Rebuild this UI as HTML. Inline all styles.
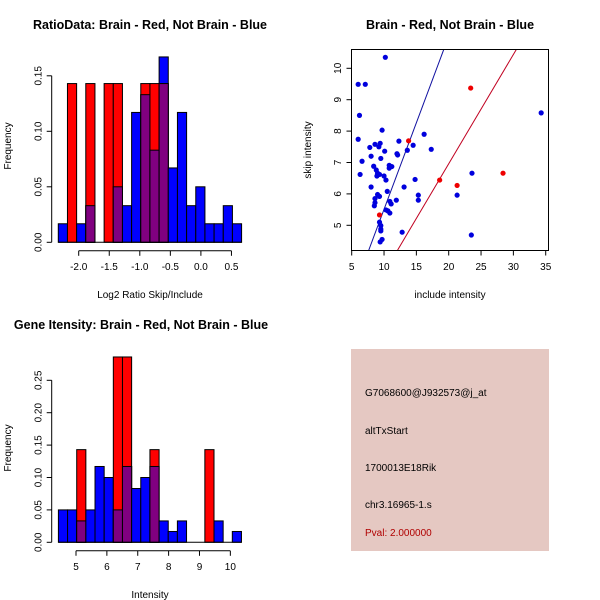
<!DOCTYPE html>
<html><head><meta charset="utf-8"><style>
body{margin:0;background:#fff}
svg{display:block;font-family:"Liberation Sans",sans-serif}
</style></head><body>
<svg id="s" width="600" height="600">
<text x="150" y="29" text-anchor="middle" font-weight="bold" font-size="12.5">RatioData: Brain - Red, Not Brain - Blue</text>
<text x="450" y="29" text-anchor="middle" font-weight="bold" font-size="12.5">Brain - Red, Not Brain - Blue</text>
<text x="141" y="329" text-anchor="middle" font-weight="bold" font-size="12.5">Gene Itensity: Brain - Red, Not Brain - Blue</text>
<text x="150" y="298" text-anchor="middle" font-size="10">Log2 Ratio Skip/Include</text>
<text x="450" y="298" text-anchor="middle" font-size="10">include intensity</text>
<text x="150" y="598" text-anchor="middle" font-size="10">Intensity</text>
<text transform="translate(11,146) rotate(-90)" text-anchor="middle" font-size="10">Frequency</text>
<text transform="translate(311,150) rotate(-90)" text-anchor="middle" font-size="10">skip intensity</text>
<text transform="translate(11,448) rotate(-90)" text-anchor="middle" font-size="10">Frequency</text>
<rect x="351" y="349" width="198" height="202" fill="#e5c8c2"/>
<text x="365" y="396" font-size="10">G7068600@J932573@j_at</text>
<text x="365" y="434" font-size="10">altTxStart</text>
<text x="365" y="471" font-size="10">1700013E18Rik</text>
<text x="365" y="508" font-size="10">chr3.16965-1.s</text>
<text x="365" y="536" font-size="10" fill="#b00000">Pval: 2.000000</text>
<rect x="351.5" y="49.5" width="197" height="201" fill="none" stroke="#000"/>
</svg>
<script>
const NS="http://www.w3.org/2000/svg";
const svg=document.getElementById('s');
// Ratio histogram data
const ratioStart=-2.334, ratioStep=0.15;
const ratioBlue=[0.0167,0,0.0167,0.033,0,0,0.05,0.033,0.117,0.133,0.083,0.167,0.067,0.117,0.033,0.05,0.0167,0.0167,0.033,0.0167];
const ratioRed=[0,0.143,0,0.143,0,0.143,0.143,0,0,0.143,0.143,0.143,0,0,0,0,0,0,0,0];
const ratioXTicks=[-2.0,-1.5,-1.0,-0.5,0.0,0.5];
const ratioYTicks=[0.00,0.05,0.10,0.15];
// Intensity histogram data
const intStart=4.43, intStep=0.2965;
const intBlue=[0.05,0.05,0.033,0.05,0.117,0.10,0.05,0.117,0.083,0.10,0.117,0.033,0.0167,0.033,0,0,0,0.033,0,0.0167];
const intRed=[0,0,0.143,0,0,0,0.286,0.286,0,0,0.143,0,0,0,0,0,0.143,0,0,0];
const intXTicks=[5,6,7,8,9,10];
const intYTicks=[0.00,0.05,0.10,0.15,0.20,0.25];
// Scatter data
const blueX=[6.0,7.1,6.2,6.0,6.3,6.6,10.2,9.7,7.8,8.6,9.4,9.2,10.1,8.0,9.5,8.4,8.8,9.0,9.3,8.9,10.0,10.3,10.8,11.2,10.8,12.0,12.1,12.3,13.6,14.5,16.2,17.3,14.8,13.1,8.0,9.0,9.3,8.6,8.6,8.5,10.5,10.9,11.1,11.9,10.3,10.6,10.9,9.3,9.5,9.5,9.5,9.7,9.4,12.8,15.3,15.3,21.3,23.6,23.5,34.3];
const blueY=[9.49,9.49,8.5,7.74,6.62,7.04,10.35,8.03,7.48,7.58,7.61,7.5,7.36,7.2,7.13,6.88,6.76,6.66,6.62,6.57,6.57,6.44,6.91,6.87,6.82,7.28,7.24,7.68,7.39,7.55,7.9,7.42,6.46,6.22,6.22,5.98,5.92,5.85,5.72,5.62,6.08,5.76,5.68,5.8,5.49,5.46,5.39,5.1,4.99,4.88,4.82,4.55,4.47,4.78,5.96,5.8,5.96,6.66,4.69,8.58];
const redX=[9.3,13.8,18.6,21.3,23.4,28.4];
const redY=[5.33,7.69,6.44,6.27,9.37,6.66];
const blueSlope=0.551, redSlope=0.348;
const scXTicks=[5,10,15,20,25,30,35];
const scYTicks=[5,6,7,8,9,10];

function el(tag,attrs,parent){const e=document.createElementNS(NS,tag);for(const k in attrs)e.setAttribute(k,attrs[k]);(parent||svg).appendChild(e);return e;}

function hist(o){
  const g=el('g',{});
  
  
  const xs=v=>o.x0px+(v-o.x0v)*o.xpx, ys=v=>o.y0px-v*o.ypx;
  for(let i=0;i<o.blue.length;i++){
    const a=o.start+i*o.step,b=a+o.step,bl=o.blue[i],rd=o.red[i];
    const x=xs(a),w=xs(b)-xs(a);
    if(bl>0){const r=el('rect',{x:x,y:ys(bl),width:w,height:ys(0)-ys(bl),fill:'#0000ff',stroke:'#000','stroke-width':1},g);
      
      }
    if(rd>0){const r=el('rect',{x:x,y:ys(rd),width:w,height:ys(0)-ys(rd),fill:'#ff0000',stroke:'#000','stroke-width':1},g);
      
      }
    if(bl>0&&rd>0){const m=Math.min(bl,rd);const r=el('rect',{x:x,y:ys(m),width:w,height:ys(0)-ys(m),fill:'#800080',stroke:'#000','stroke-width':1},g);
      
      }
  }
  const xa=el('g',{},g);
  
  
  const t0=xs(o.xt[0]),t1=xs(o.xt[o.xt.length-1]),ay=o.y0px+8.5;
  el('line',{x1:t0,x2:t1,y1:ay,y2:ay,stroke:'#000'},xa);
  o.xt.forEach(v=>{el('line',{x1:xs(v),x2:xs(v),y1:ay,y2:ay+5,stroke:'#000'},xa);
    const t=el('text',{x:xs(v),y:ay+19,'text-anchor':'middle','font-size':10},xa);t.textContent=o.xfmt(v);});
  const ya=el('g',{},g);
  
  
  const axx=o.yaxx;
  el('line',{x1:axx,x2:axx,y1:ys(o.yt[0]),y2:ys(o.yt[o.yt.length-1]),stroke:'#000'},ya);
  o.yt.forEach(v=>{el('line',{x1:axx-5,x2:axx,y1:ys(v),y2:ys(v),stroke:'#000'},ya);
    const t=el('text',{transform:`translate(${axx-10},${ys(v)}) rotate(-90)`,'text-anchor':'middle','font-size':10},ya);t.textContent=v.toFixed(2);});
  el('line',{x1:xs(o.start),x2:xs(o.start+o.blue.length*o.step),y1:o.y0px,y2:o.y0px,stroke:'#000'},g);
}
hist({name:'ratio-histogram',start:ratioStart,step:ratioStep,blue:ratioBlue,red:ratioRed,x0px:78.7,x0v:-2.0,xpx:61.1,y0px:242.3,ypx:1110,xt:ratioXTicks,yt:ratioYTicks,yaxx:51.7,xfmt:v=>v.toFixed(1)});
hist({name:'intensity-histogram',start:intStart,step:intStep,blue:intBlue,red:intRed,x0px:76,x0v:5,xpx:30.87,y0px:542.3,ypx:648,xt:intXTicks,yt:intYTicks,yaxx:51.7,xfmt:v=>String(v)});

const sx=v=>351.7+(v-5)*6.467, sy=v=>225.3-(v-5)*31.4;
const sg=el('g',{});


const clip=el('clipPath',{id:'cp'});el('rect',{x:352,y:50,width:196,height:200},clip);
const lg=el('g',{'clip-path':'url(#cp)'},sg);
[[blueSlope,'#1010a0','blue-fit-line'],[redSlope,'#c00020','red-fit-line']].forEach(([m,c,n])=>{
  const l=el('line',{x1:sx(0),y1:sy(0),x2:sx(40),y2:sy(40*m),stroke:c,'stroke-width':1},lg);
  
  });
blueX.forEach((x,i)=>{const c=el('circle',{cx:sx(x),cy:sy(blueY[i]),r:2.6,fill:'#0000dd'},sg);
  
  });
redX.forEach((x,i)=>{const c=el('circle',{cx:sx(x),cy:sy(redY[i]),r:2.6,fill:'#ee0000'},sg);
  
  });
const sxa=el('g',{},sg);


scXTicks.forEach(v=>{el('line',{x1:sx(v),x2:sx(v),y1:250.5,y2:255.5,stroke:'#000'},sxa);
  const t=el('text',{x:sx(v),y:270,'text-anchor':'middle','font-size':10},sxa);t.textContent=v;});
const sya=el('g',{},sg);


scYTicks.forEach(v=>{el('line',{x1:346.5,x2:351.5,y1:sy(v),y2:sy(v),stroke:'#000'},sya);
  const t=el('text',{transform:`translate(341,${sy(v)}) rotate(-90)`,'text-anchor':'middle','font-size':10},sya);t.textContent=v;});
</script>
</body></html>
